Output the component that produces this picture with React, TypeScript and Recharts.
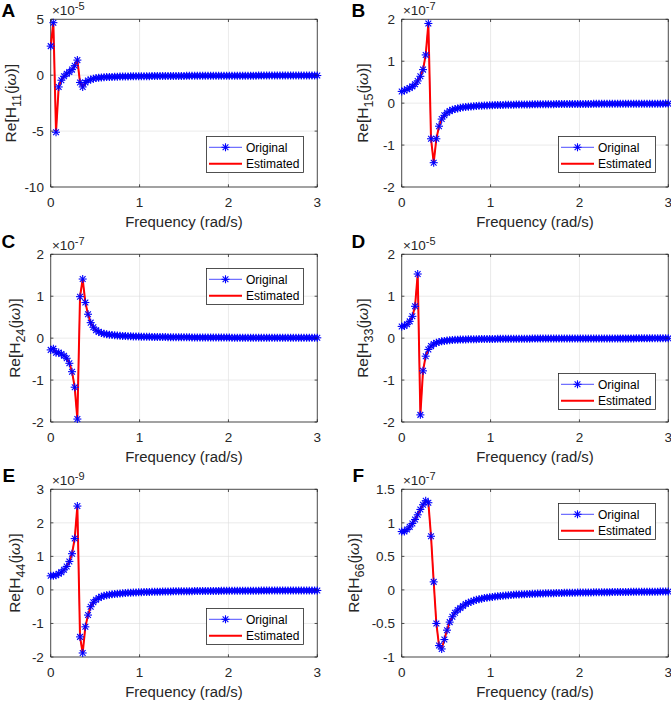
import React from 'react';
import { LineChart, Line, XAxis, YAxis, CartesianGrid, Legend, ReferenceArea } from 'recharts';

const FONT = '"Liberation Sans", Arial, Helvetica, sans-serif';
const AX = '#262626';

// frequency grid (rad/s)
const freq = [
  0, 0.03, 0.06, 0.09, 0.12, 0.15, 0.18, 0.21, 0.24, 0.27,
  0.3, 0.33, 0.36, 0.39, 0.42, 0.45, 0.48, 0.51, 0.54, 0.57,
  0.6, 0.63, 0.66, 0.69, 0.72, 0.75, 0.78, 0.81, 0.84, 0.87,
  0.9, 0.93, 0.96, 0.99, 1.02, 1.05, 1.08, 1.11, 1.14, 1.17,
  1.2, 1.23, 1.26, 1.29, 1.32, 1.35, 1.38, 1.41, 1.44, 1.47,
  1.5, 1.53, 1.56, 1.59, 1.62, 1.65, 1.68, 1.71, 1.74, 1.77,
  1.8, 1.83, 1.86, 1.89, 1.92, 1.95, 1.98, 2.01, 2.04, 2.07,
  2.1, 2.13, 2.16, 2.19, 2.22, 2.25, 2.28, 2.31, 2.34, 2.37,
  2.4, 2.43, 2.46, 2.49, 2.52, 2.55, 2.58, 2.61, 2.64, 2.67,
  2.7, 2.73, 2.76, 2.79, 2.82, 2.85, 2.88, 2.91, 2.94, 2.97,
  3,
];

// Re[H11] x1e-5
const h11 = [
  2.6, 4.7, -5.1, -1.05, -0.45, -0.1, 0.12, 0.28, 0.5, 0.85,
  1.35, -0.65, -1.05, -0.65, -0.48, -0.38, -0.31, -0.26, -0.23, -0.2,
  -0.18, -0.17, -0.16, -0.15, -0.14, -0.13, -0.125, -0.12, -0.115, -0.11,
  -0.105, -0.1, -0.097, -0.094, -0.091, -0.088, -0.086, -0.084, -0.082, -0.08,
  -0.078, -0.076, -0.074, -0.072, -0.07, -0.069, -0.067, -0.066, -0.064, -0.063,
  -0.062, -0.06, -0.059, -0.058, -0.057, -0.056, -0.055, -0.054, -0.053, -0.052,
  -0.051, -0.05, -0.049, -0.048, -0.047, -0.047, -0.046, -0.045, -0.044, -0.044,
  -0.043, -0.042, -0.042, -0.041, -0.04, -0.04, -0.039, -0.039, -0.038, -0.037,
  -0.037, -0.036, -0.036, -0.035, -0.035, -0.034, -0.034, -0.033, -0.033, -0.033,
  -0.032, -0.032, -0.031, -0.031, -0.031, -0.03, -0.03, -0.03, -0.029, -0.029,
  -0.029,
];

// Re[H15] x1e-7
const h15 = [
  0.28, 0.3, 0.33, 0.36, 0.4, 0.45, 0.53, 0.64, 0.8, 1.15,
  1.9, -0.85, -1.42, -0.85, -0.55, -0.38, -0.29, -0.23, -0.19, -0.16,
  -0.14, -0.125, -0.11, -0.1, -0.09, -0.085, -0.078, -0.072, -0.068, -0.064,
  -0.06, -0.057, -0.054, -0.051, -0.049, -0.047, -0.045, -0.043, -0.042, -0.04,
  -0.039, -0.038, -0.036, -0.035, -0.034, -0.033, -0.032, -0.031, -0.03, -0.029,
  -0.029, -0.028, -0.027, -0.026, -0.026, -0.025, -0.024, -0.024, -0.023, -0.023,
  -0.022, -0.022, -0.021, -0.021, -0.02, -0.02, -0.019, -0.019, -0.019, -0.018,
  -0.018, -0.018, -0.017, -0.017, -0.017, -0.016, -0.016, -0.016, -0.016, -0.015,
  -0.015, -0.015, -0.015, -0.014, -0.014, -0.014, -0.014, -0.014, -0.013, -0.013,
  -0.013, -0.013, -0.013, -0.012, -0.012, -0.012, -0.012, -0.012, -0.012, -0.011,
  -0.011,
];

// Re[H24] x1e-7
const h24 = [
  -0.28, -0.25, -0.35, -0.34, -0.38, -0.42, -0.48, -0.6, -0.8, -1.17,
  -1.93, 0.99, 1.41, 0.85, 0.57, 0.37, 0.26, 0.19, 0.15, 0.125,
  0.107, 0.094, 0.084, 0.076, 0.069, 0.063, 0.058, 0.054, 0.05, 0.047,
  0.044, 0.042, 0.04, 0.038, 0.036, 0.034, 0.033, 0.031, 0.03, 0.029,
  0.028, 0.027, 0.026, 0.025, 0.024, 0.023, 0.022, 0.022, 0.021, 0.02,
  0.02, 0.019, 0.019, 0.018, 0.018, 0.017, 0.017, 0.016, 0.016, 0.015,
  0.015, 0.015, 0.014, 0.014, 0.014, 0.013, 0.013, 0.013, 0.012, 0.012,
  0.012, 0.012, 0.011, 0.011, 0.011, 0.011, 0.011, 0.01, 0.01, 0.01,
  0.01, 0.01, 0.0095, 0.0095, 0.0093, 0.0092, 0.009, 0.0089, 0.0088, 0.0087,
  0.0086, 0.0085, 0.0084, 0.0083, 0.0082, 0.0081, 0.008, 0.008, 0.0079, 0.0078,
  0.0077,
];

// Re[H33] x1e-5
const h33 = [
  0.28, 0.29, 0.33, 0.4, 0.52, 0.76, 1.53, -1.83, -0.78, -0.43,
  -0.27, -0.19, -0.14, -0.11, -0.09, -0.075, -0.065, -0.057, -0.05, -0.045,
  -0.041, -0.038, -0.035, -0.032, -0.03, -0.028, -0.026, -0.025, -0.024, -0.023,
  -0.022, -0.021, -0.02, -0.019, -0.018, -0.018, -0.017, -0.016, -0.016, -0.015,
  -0.015, -0.014, -0.014, -0.013, -0.013, -0.013, -0.012, -0.012, -0.012, -0.011,
  -0.011, -0.011, -0.01, -0.01, -0.01, -0.0098, -0.0095, -0.0093, -0.009, -0.0088,
  -0.0086, -0.0084, -0.0082, -0.008, -0.0078, -0.0077, -0.0075, -0.0074, -0.0072, -0.0071,
  -0.007, -0.0068, -0.0067, -0.0066, -0.0065, -0.0064, -0.0063, -0.0062, -0.0061, -0.006,
  -0.0059, -0.0058, -0.0057, -0.0057, -0.0056, -0.0055, -0.0054, -0.0054, -0.0053, -0.0052,
  -0.0052, -0.0051, -0.005, -0.005, -0.0049, -0.0049, -0.0048, -0.0048, -0.0047, -0.0047,
  -0.0046,
];

// Re[H44] x1e-9
const h44 = [
  0.42, 0.42, 0.44, 0.48, 0.53, 0.6, 0.7, 0.85, 1.08, 1.53,
  2.5, -1.4, -1.88, -1.1, -0.75, -0.5, -0.37, -0.29, -0.24, -0.2,
  -0.175, -0.158, -0.144, -0.132, -0.122, -0.113, -0.105, -0.099, -0.093, -0.088,
  -0.083, -0.079, -0.075, -0.071, -0.068, -0.065, -0.062, -0.06, -0.057, -0.055,
  -0.053, -0.051, -0.049, -0.048, -0.046, -0.045, -0.043, -0.042, -0.041, -0.04,
  -0.039, -0.038, -0.037, -0.036, -0.035, -0.034, -0.033, -0.033, -0.032, -0.031,
  -0.031, -0.03, -0.029, -0.029, -0.028, -0.028, -0.027, -0.027, -0.026, -0.026,
  -0.025, -0.025, -0.024, -0.024, -0.023, -0.023, -0.023, -0.022, -0.022, -0.021,
  -0.021, -0.021, -0.02, -0.02, -0.02, -0.019, -0.019, -0.019, -0.019, -0.018,
  -0.018, -0.018, -0.017, -0.017, -0.017, -0.017, -0.016, -0.016, -0.016, -0.016,
  -0.016,
];

// Re[H66] x1e-7
const h66 = [
  0.87, 0.87, 0.9, 0.94, 0.99, 1.05, 1.12, 1.2, 1.27, 1.33,
  1.3, 0.8, 0.12, -0.5, -0.83, -0.88, -0.74, -0.6, -0.48, -0.4,
  -0.34, -0.3, -0.27, -0.24, -0.21, -0.19, -0.175, -0.16, -0.148, -0.138,
  -0.13, -0.122, -0.115, -0.11, -0.104, -0.099, -0.094, -0.09, -0.086, -0.082,
  -0.079, -0.076, -0.073, -0.07, -0.068, -0.066, -0.064, -0.062, -0.06, -0.058,
  -0.057, -0.055, -0.054, -0.052, -0.051, -0.05, -0.049, -0.048, -0.047, -0.046,
  -0.045, -0.044, -0.043, -0.042, -0.041, -0.041, -0.04, -0.039, -0.039, -0.038,
  -0.037, -0.037, -0.036, -0.035, -0.035, -0.034, -0.034, -0.033, -0.033, -0.032,
  -0.032, -0.031, -0.031, -0.03, -0.03, -0.03, -0.029, -0.029, -0.028, -0.028,
  -0.028, -0.027, -0.027, -0.027, -0.026, -0.026, -0.026, -0.025, -0.025, -0.025,
  -0.025,
];

const xTicks = [0, 1, 2, 3];
const ticksA = [-10, -5, 0, 5];
const ticksB = [-2, -1, 0, 1, 2];
const ticksC = [-2, -1, 0, 1, 2];
const ticksD = [-2, -1, 0, 1, 2];
const ticksE = [-2, -1, 0, 1, 2, 3];
const ticksF = [-1, -0.5, 0, 0.5, 1, 1.5];

const panelLetters = ['A', 'B', 'C', 'D', 'E', 'F'];
const subscripts = ['11', '15', '24', '33', '44', '66'];
const exponents = ['-5', '-7', '-7', '-5', '-9', '-7'];
const seriesNames = ['Original', 'Estimated'];

const CHART_H = 231;
const M_TOP = 19.3;
const X_H = 44;
const PLOT_H = CHART_H - M_TOP - X_H;

const colGeom = [
  { left: 0, width: 335, yw: 50, ml: 0.7, mr: 17.7 },
  { left: 335, width: 336, yw: 60, ml: 6.7, mr: 2.7 },
];
const rowTops = [0, 235, 470];

const Star = ({ cx, cy, r = 4 }: { cx: number; cy: number; r?: number }) => {
  const d = r * 0.72;
  return (
    <g stroke="#0000ff" strokeWidth={1.1} fill="none">
      <line x1={cx - r} y1={cy} x2={cx + r} y2={cy} />
      <line x1={cx} y1={cy - r} x2={cx} y2={cy + r} />
      <line x1={cx - d} y1={cy - d} x2={cx + d} y2={cy + d} />
      <line x1={cx - d} y1={cy + d} x2={cx + d} y2={cy - d} />
    </g>
  );
};

const LegendBox = () => (
  <svg width={98} height={37} style={{ display: 'block', overflow: 'visible' }}>
    <rect x={0.5} y={0.5} width={97} height={36} fill="#fff" stroke={AX} strokeWidth={0.8} />
    <line x1={3} y1={11.3} x2={36} y2={11.3} stroke="#0000ff" strokeWidth={0.7} />
    <Star cx={19.5} cy={11.3} />
    <text x={40} y={15.6} fontSize={12} fontFamily={FONT} fill="#000">{seriesNames[0]}</text>
    <line x1={3} y1={27.8} x2={36} y2={27.8} stroke="#ff0000" strokeWidth={2} />
    <text x={40} y={32.1} fontSize={12} fontFamily={FONT} fill="#000">{seriesNames[1]}</text>
  </svg>
);

type Panel = {
  values: number[];
  yMin: number;
  yMax: number;
  yTicks: number[];
  col: number;
  row: number;
  legend: { left: number; top: number };
  ylabOff: number;
  idx: number;
};

const panels: Panel[] = [
  { values: h11, yMin: -10, yMax: 5, yTicks: ticksA, col: 0, row: 0, legend: { left: 205.5, top: 136 }, ylabOff: -34.7, idx: 0 },
  { values: h15, yMin: -2, yMax: 2, yTicks: ticksB, col: 1, row: 0, legend: { left: 222.5, top: 136 }, ylabOff: -33.4, idx: 1 },
  { values: h24, yMin: -2, yMax: 2, yTicks: ticksC, col: 0, row: 1, legend: { left: 205.5, top: 33.3 }, ylabOff: -30.7, idx: 2 },
  { values: h33, yMin: -2, yMax: 2, yTicks: ticksD, col: 1, row: 1, legend: { left: 222.5, top: 137.7 }, ylabOff: -33.4, idx: 3 },
  { values: h44, yMin: -2, yMax: 3, yTicks: ticksE, col: 0, row: 2, legend: { left: 205.5, top: 138.3 }, ylabOff: -30.7, idx: 4 },
  { values: h66, yMin: -1, yMax: 1.5, yTicks: ticksF, col: 1, row: 2, legend: { left: 222.5, top: 33.3 }, ylabOff: -42.7, idx: 5 },
];

const PanelChart = ({ p }: { p: Panel }) => {
  const g = colGeom[p.col];
  const plotW = g.width - g.ml - g.yw - g.mr;
  const data = freq.map((f, i) => ({ f, o: p.values[i], e: p.values[i] }));

  const XTick = (props: any) => {
    const { x, y, payload } = props;
    return (
      <g>
        <line x1={x} y1={y} x2={x} y2={y - 2.7} stroke={AX} strokeWidth={0.8} />
        <line x1={x} y1={y - PLOT_H} x2={x} y2={y - PLOT_H + 2.7} stroke={AX} strokeWidth={0.8} />
        <text x={x} y={y + 19.6} textAnchor="middle" fontSize={13.5} fontFamily={FONT} fill={AX}>
          {String(payload.value)}
        </text>
      </g>
    );
  };

  const YTick = (props: any) => {
    const { x, y, payload } = props;
    return (
      <g>
        <line x1={x} y1={y} x2={x + 2.7} y2={y} stroke={AX} strokeWidth={0.8} />
        <line x1={x + plotW} y1={y} x2={x + plotW - 2.7} y2={y} stroke={AX} strokeWidth={0.8} />
        <text x={x - 6.8} y={y + 4.8} textAnchor="end" fontSize={13.5} fontFamily={FONT} fill={AX}>
          {String(payload.value)}
        </text>
      </g>
    );
  };

  const XLabel = (props: any) => {
    const vb = props.viewBox || {};
    return (
      <text x={vb.x + vb.width / 2} y={vb.y + 39.5} textAnchor="middle" fontSize={14.9} fontFamily={FONT} fill={AX}>
        Frequency (rad/s)
      </text>
    );
  };

  const YLabel = (props: any) => {
    const vb = props.viewBox || {};
    const plotLeft = vb.x + vb.width;
    const cy = vb.y + vb.height / 2;
    return (
      <g>
        <text
          transform={`translate(${plotLeft + p.ylabOff},${cy}) rotate(-90)`}
          textAnchor="middle"
          fontSize={15.5}
          fontFamily={FONT}
          fill={AX}
        >
          Re[H
          <tspan dy={4.5} fontSize={12.5}>{subscripts[p.idx]}</tspan>
          <tspan dy={-4.5}>(j</tspan>
          <tspan fontStyle="italic">ω</tspan>
          <tspan>)]</tspan>
        </text>
        <text x={plotLeft + 1.2} y={vb.y - 4.2} fontSize={13.5} fontFamily={FONT} fill={AX}>
          ×10
          <tspan dy={-5.5} fontSize={11}>{exponents[p.idx]}</tspan>
        </text>
      </g>
    );
  };

  const renderDot = (props: any) => {
    const { cx, cy, index } = props;
    if (cx == null || cy == null) return <g key={`n${index}`} />;
    return <Star key={`s${index}`} cx={cx} cy={cy} />;
  };

  return (
    <div style={{ position: 'absolute', left: g.left, top: rowTops[p.row], width: g.width, height: CHART_H }}>
      <LineChart
        width={g.width}
        height={CHART_H}
        data={data}
        margin={{ top: M_TOP, right: g.mr, bottom: 0, left: g.ml }}
      >
        <CartesianGrid stroke="#dcdcdc" strokeWidth={0.6} />
        <XAxis
          dataKey="f"
          type="number"
          domain={[0, 3]}
          ticks={xTicks}
          interval={0}
          tickSize={0}
          tickMargin={0}
          axisLine={false}
          tickLine={false}
          height={X_H}
          tick={XTick}
          label={{ content: XLabel }}
        />
        <YAxis
          type="number"
          domain={[p.yMin, p.yMax]}
          ticks={p.yTicks}
          interval={0}
          tickSize={0}
          tickMargin={0}
          axisLine={false}
          tickLine={false}
          width={g.yw}
          tick={YTick}
          label={{ content: YLabel }}
        />
        <ReferenceArea
          x1={0}
          x2={3}
          y1={p.yMin}
          y2={p.yMax}
          fill="none"
          fillOpacity={0}
          stroke={AX}
          strokeWidth={0.8}
          ifOverflow="visible"
        />
        <Line
          type="linear"
          dataKey="o"
          name={seriesNames[0]}
          stroke="#0000ff"
          strokeWidth={0.7}
          dot={renderDot}
          activeDot={false}
          isAnimationActive={false}
        />
        <Line
          type="linear"
          dataKey="e"
          name={seriesNames[1]}
          stroke="#ff0000"
          strokeWidth={2}
          dot={false}
          activeDot={false}
          isAnimationActive={false}
        />
        <Legend
          layout="vertical"
          align="center"
          verticalAlign="middle"
          wrapperStyle={{ left: p.legend.left, top: p.legend.top, width: 98, height: 37 }}
          content={() => <LegendBox />}
        />
      </LineChart>
    </div>
  );
};

const letterPos = [
  { x: 1.5, y: 16.7 },
  { x: 351.5, y: 16.7 },
  { x: 1.5, y: 248 },
  { x: 351.5, y: 248 },
  { x: 2.5, y: 482 },
  { x: 352.5, y: 482 },
];

export default function App() {
  return (
    <div
      style={{
        position: 'absolute',
        left: 0,
        top: 0,
        width: 671,
        height: 701,
        background: '#fff',
        overflow: 'hidden',
        fontFamily: FONT,
      }}
    >
      {panels.map((p) => (
        <PanelChart key={p.idx} p={p} />
      ))}
      <svg width={671} height={701} style={{ position: 'absolute', left: 0, top: 0, pointerEvents: 'none' }}>
        {panelLetters.map((l, i) => (
          <text key={l} x={letterPos[i].x} y={letterPos[i].y} fontSize={19} fontWeight="bold" fontFamily={FONT} fill="#000">
            {l}
          </text>
        ))}
      </svg>
    </div>
  );
}
